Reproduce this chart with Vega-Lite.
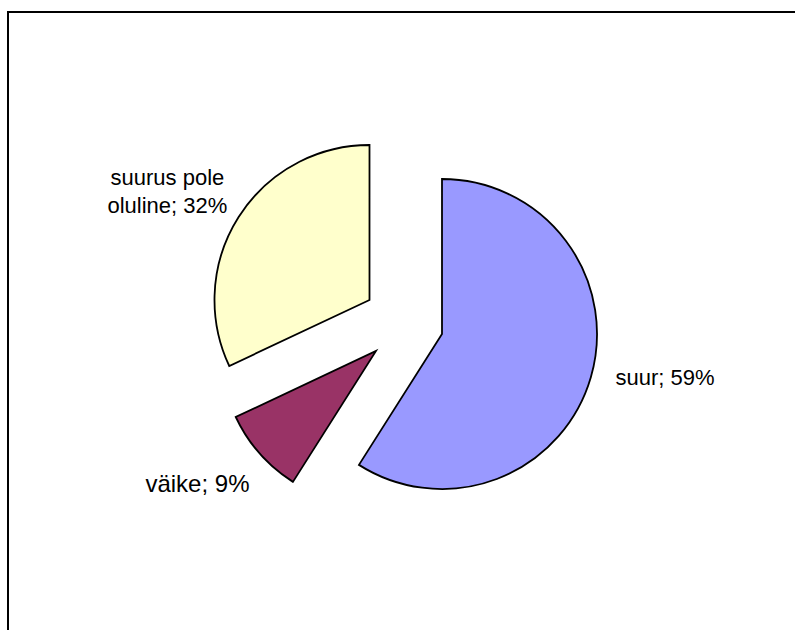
{
  "$schema": "https://vega.github.io/schema/vega-lite/v6.json",
  "autosize": {"type": "fit", "contains": "padding"},
  "width": 795,
  "height": 630,
  "padding": {"left": 7, "top": 11, "right": -3, "bottom": -3},
  "background": "white",
  "config": {"view": {"stroke": null}},
  "data": {"values": [
    {"i": 1, "k": "suur", "v": 59, "label": "suur; 59%"},
    {"i": 2, "k": "väike", "v": 9, "label": "väike; 9%"},
    {"i": 3, "k": "suurus pole oluline", "v": 32, "label": "suurus pole\noluline; 32%"}
  ]},
  "layer": [
    {
      "mark": {"type": "rect", "fill": null, "stroke": "black", "strokeWidth": 2},
      "encoding": {}
    },
    {
      "transform": [{"stack": "v", "groupby": [], "as": ["t0", "t1"]}, {"filter": "datum.k === 'suur'"}],
      "mark": {"type": "arc", "outerRadius": 155, "fill": "#9999FF", "stroke": "black", "strokeWidth": 1.8, "xOffset": 39.5, "yOffset": 12},
      "encoding": {
        "theta": {"field": "t0", "type": "quantitative", "stack": null, "scale": {"domain": [0, 100]}},
        "theta2": {"field": "t1"}
      }
    },
    {
      "transform": [{"stack": "v", "groupby": [], "as": ["t0", "t1"]}, {"filter": "datum.k === 'väike'"}],
      "mark": {"type": "arc", "outerRadius": 155, "fill": "#993366", "stroke": "black", "strokeWidth": 1.8, "xOffset": -26.5, "yOffset": 29},
      "encoding": {
        "theta": {"field": "t0", "type": "quantitative", "stack": null, "scale": {"domain": [0, 100]}},
        "theta2": {"field": "t1"}
      }
    },
    {
      "transform": [{"stack": "v", "groupby": [], "as": ["t0", "t1"]}, {"filter": "datum.k === 'suurus pole oluline'"}],
      "mark": {"type": "arc", "outerRadius": 155, "fill": "#FFFFCC", "stroke": "black", "strokeWidth": 1.8, "xOffset": -33, "yOffset": -22},
      "encoding": {
        "theta": {"field": "t0", "type": "quantitative", "stack": null, "scale": {"domain": [0, 100]}},
        "theta2": {"field": "t1"}
      }
    },
    {
      "mark": {"type": "text", "radius": 266, "font": "Liberation Sans", "fontSize": 22, "baseline": "alphabetic", "align": "center", "color": "black", "dx": 7, "dy": -11.2},
      "encoding": {
        "theta": {"field": "v", "type": "quantitative", "stack": true, "scale": {"domain": [0, 100]}},
        "order": {"field": "i", "type": "quantitative"},
        "text": {"condition": {"test": "datum.k === 'suur'", "field": "label"}, "value": ""}
      }
    },
    {
      "mark": {"type": "text", "radius": 266, "font": "Liberation Sans", "fontSize": 24, "baseline": "alphabetic", "align": "center", "color": "black", "dx": -5.5, "dy": -6.1},
      "encoding": {
        "theta": {"field": "v", "type": "quantitative", "stack": true, "scale": {"domain": [0, 100]}},
        "order": {"field": "i", "type": "quantitative"},
        "text": {"condition": {"test": "datum.k === 'väike'", "field": "label"}, "value": ""}
      }
    },
    {
      "mark": {"type": "text", "radius": 266, "font": "Liberation Sans", "fontSize": 22, "baseline": "alphabetic", "align": "center", "color": "black", "lineBreak": "\n", "lineHeight": 28, "dx": -10.5, "dy": 5.5},
      "encoding": {
        "theta": {"field": "v", "type": "quantitative", "stack": true, "scale": {"domain": [0, 100]}},
        "order": {"field": "i", "type": "quantitative"},
        "text": {"condition": {"test": "datum.k === 'suurus pole oluline'", "field": "label"}, "value": ""}
      }
    }
  ]
}
